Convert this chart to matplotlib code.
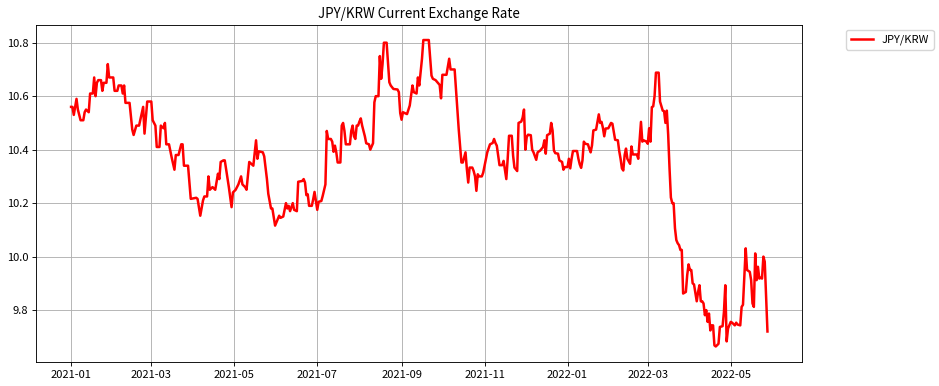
import pandas as pd
import matplotlib
matplotlib.use('Agg')
import matplotlib.pyplot as plt

plt.rcParams['font.family'] = ['Noto Sans CJK KR', 'DejaVu Sans']
plt.rcParams['axes.unicode_minus'] = False
# the original looks like default styling rendered at a lower dpi, so shrink everything a bit
plt.rcParams['axes.linewidth'] = 0.64
plt.rcParams['grid.linewidth'] = 0.64
plt.rcParams['xtick.major.size'] = 2.8
plt.rcParams['ytick.major.size'] = 2.8
plt.rcParams['xtick.major.width'] = 0.64
plt.rcParams['ytick.major.width'] = 0.64
plt.rcParams['xtick.major.pad'] = 2.8
plt.rcParams['ytick.major.pad'] = 2.8
plt.rcParams['axes.titlepad'] = 4.8

# JPY/KRW rate
dates = [
    '2021-01-01', '2021-01-02', '2021-01-03', '2021-01-05', '2021-01-06', '2021-01-08', '2021-01-10',
    '2021-01-11', '2021-01-12', '2021-01-14', '2021-01-15', '2021-01-17', '2021-01-18', '2021-01-19',
    '2021-01-20', '2021-01-21', '2021-01-23', '2021-01-24', '2021-01-25', '2021-01-27', '2021-01-28',
    '2021-01-29', '2021-02-01', '2021-02-02', '2021-02-04', '2021-02-05', '2021-02-07', '2021-02-08',
    '2021-02-09', '2021-02-10', '2021-02-13', '2021-02-15', '2021-02-16', '2021-02-18', '2021-02-20',
    '2021-02-23', '2021-02-24', '2021-02-26', '2021-03-01', '2021-03-02', '2021-03-04', '2021-03-05',
    '2021-03-07', '2021-03-08', '2021-03-10', '2021-03-11', '2021-03-12', '2021-03-14', '2021-03-16',
    '2021-03-18', '2021-03-19', '2021-03-21', '2021-03-23', '2021-03-24', '2021-03-25', '2021-03-28',
    '2021-03-30', '2021-04-03', '2021-04-04', '2021-04-06', '2021-04-08', '2021-04-09', '2021-04-11',
    '2021-04-12', '2021-04-13', '2021-04-15', '2021-04-17', '2021-04-19', '2021-04-20', '2021-04-21',
    '2021-04-23', '2021-04-24', '2021-04-27', '2021-04-29', '2021-04-30', '2021-05-02', '2021-05-04',
    '2021-05-06', '2021-05-07', '2021-05-09', '2021-05-10', '2021-05-12', '2021-05-14', '2021-05-15',
    '2021-05-17', '2021-05-18', '2021-05-19', '2021-05-22', '2021-05-23', '2021-05-25', '2021-05-26',
    '2021-05-28', '2021-05-29', '2021-05-31', '2021-06-02', '2021-06-03', '2021-06-04', '2021-06-06',
    '2021-06-08', '2021-06-09', '2021-06-10', '2021-06-11', '2021-06-13', '2021-06-14', '2021-06-16',
    '2021-06-17', '2021-06-20', '2021-06-21', '2021-06-22', '2021-06-23', '2021-06-24', '2021-06-25',
    '2021-06-27', '2021-06-28', '2021-06-29', '2021-06-30', '2021-07-01', '2021-07-02', '2021-07-04',
    '2021-07-05', '2021-07-07', '2021-07-08', '2021-07-09', '2021-07-11', '2021-07-12', '2021-07-13',
    '2021-07-14', '2021-07-15', '2021-07-16', '2021-07-18', '2021-07-19', '2021-07-20', '2021-07-21',
    '2021-07-22', '2021-07-25', '2021-07-26', '2021-07-27', '2021-07-28', '2021-07-29', '2021-07-30',
    '2021-07-31', '2021-08-01', '2021-08-02', '2021-08-03', '2021-08-05', '2021-08-06', '2021-08-08',
    '2021-08-09', '2021-08-11', '2021-08-12', '2021-08-13', '2021-08-15', '2021-08-16', '2021-08-17',
    '2021-08-18', '2021-08-19', '2021-08-21', '2021-08-23', '2021-08-24', '2021-08-26', '2021-08-29',
    '2021-08-30', '2021-08-31', '2021-09-01', '2021-09-02', '2021-09-05', '2021-09-07', '2021-09-09',
    '2021-09-10', '2021-09-12', '2021-09-13', '2021-09-14', '2021-09-15', '2021-09-16', '2021-09-17',
    '2021-09-21', '2021-09-23', '2021-09-24', '2021-09-26', '2021-09-29', '2021-09-30', '2021-10-01',
    '2021-10-04', '2021-10-06', '2021-10-07', '2021-10-10', '2021-10-12', '2021-10-13', '2021-10-15',
    '2021-10-16', '2021-10-18', '2021-10-19', '2021-10-20', '2021-10-21', '2021-10-23', '2021-10-24',
    '2021-10-25', '2021-10-26', '2021-10-27', '2021-10-28', '2021-10-30', '2021-10-31', '2021-11-01',
    '2021-11-03', '2021-11-05', '2021-11-07', '2021-11-08', '2021-11-09', '2021-11-10', '2021-11-11',
    '2021-11-12', '2021-11-14', '2021-11-15', '2021-11-17', '2021-11-18', '2021-11-19', '2021-11-21',
    '2021-11-22', '2021-11-23', '2021-11-25', '2021-11-26', '2021-11-28', '2021-11-29', '2021-11-30',
    '2021-12-01', '2021-12-02', '2021-12-03', '2021-12-05', '2021-12-06', '2021-12-07', '2021-12-09',
    '2021-12-10', '2021-12-12', '2021-12-14', '2021-12-15', '2021-12-16', '2021-12-17', '2021-12-19',
    '2021-12-20', '2021-12-21', '2021-12-22', '2021-12-23', '2021-12-25', '2021-12-26', '2021-12-28',
    '2021-12-29', '2021-12-30', '2022-01-01', '2022-01-02', '2022-01-03', '2022-01-04', '2022-01-05',
    '2022-01-08', '2022-01-09', '2022-01-10', '2022-01-11', '2022-01-12', '2022-01-13', '2022-01-14',
    '2022-01-16', '2022-01-17', '2022-01-18', '2022-01-19', '2022-01-20', '2022-01-22', '2022-01-24',
    '2022-01-25', '2022-01-26', '2022-01-27', '2022-01-28', '2022-01-29', '2022-01-31', '2022-02-02',
    '2022-02-03', '2022-02-04', '2022-02-05', '2022-02-07', '2022-02-08', '2022-02-09', '2022-02-10',
    '2022-02-11', '2022-02-12', '2022-02-13', '2022-02-14', '2022-02-16', '2022-02-17', '2022-02-18',
    '2022-02-21', '2022-02-22', '2022-02-24', '2022-02-25', '2022-02-26', '2022-02-28', '2022-03-01',
    '2022-03-02', '2022-03-03', '2022-03-04', '2022-03-05', '2022-03-06', '2022-03-07', '2022-03-09',
    '2022-03-10', '2022-03-12', '2022-03-13', '2022-03-14', '2022-03-15', '2022-03-16', '2022-03-17',
    '2022-03-18', '2022-03-19', '2022-03-20', '2022-03-21', '2022-03-22', '2022-03-23', '2022-03-24',
    '2022-03-25', '2022-03-26', '2022-03-27', '2022-03-29', '2022-03-30', '2022-03-31', '2022-04-01',
    '2022-04-02', '2022-04-03', '2022-04-04', '2022-04-06', '2022-04-07', '2022-04-08', '2022-04-09',
    '2022-04-10', '2022-04-11', '2022-04-12', '2022-04-13', '2022-04-14', '2022-04-15', '2022-04-16',
    '2022-04-17', '2022-04-18', '2022-04-19', '2022-04-20', '2022-04-22', '2022-04-23', '2022-04-25',
    '2022-04-26', '2022-04-27', '2022-04-28', '2022-04-29', '2022-05-01', '2022-05-02', '2022-05-04',
    '2022-05-05', '2022-05-06', '2022-05-08', '2022-05-09', '2022-05-10', '2022-05-12', '2022-05-13',
    '2022-05-15', '2022-05-16', '2022-05-17', '2022-05-18', '2022-05-19', '2022-05-20', '2022-05-21',
    '2022-05-22', '2022-05-23', '2022-05-24', '2022-05-25', '2022-05-26', '2022-05-28',
]

rates = [
    10.56, 10.56, 10.53, 10.59, 10.55, 10.51, 10.51,
    10.54, 10.55, 10.54, 10.61, 10.61, 10.67, 10.60,
    10.65, 10.66, 10.66, 10.62, 10.65, 10.65, 10.72,
    10.67, 10.67, 10.62, 10.62, 10.64, 10.64, 10.61,
    10.64, 10.575, 10.575, 10.475, 10.455, 10.49, 10.49,
    10.56, 10.46, 10.58, 10.58, 10.51, 10.49, 10.41,
    10.41, 10.49, 10.48, 10.50, 10.42, 10.42, 10.37,
    10.325, 10.38, 10.38, 10.42, 10.42, 10.34, 10.34,
    10.216, 10.22, 10.216, 10.153, 10.21, 10.225, 10.225,
    10.30, 10.25, 10.26, 10.25, 10.31, 10.29, 10.354,
    10.36, 10.36, 10.26, 10.185, 10.24, 10.25, 10.27,
    10.30, 10.27, 10.26, 10.25, 10.354, 10.345, 10.34,
    10.435, 10.366, 10.394, 10.39, 10.375, 10.29, 10.235,
    10.18, 10.18, 10.116, 10.14, 10.153, 10.145, 10.15,
    10.20, 10.18, 10.19, 10.17, 10.20, 10.175, 10.17,
    10.28, 10.283, 10.29, 10.277, 10.23, 10.233, 10.19,
    10.19, 10.214, 10.242, 10.208, 10.175, 10.205, 10.208,
    10.227, 10.27, 10.47, 10.44, 10.44, 10.43, 10.392,
    10.415, 10.39, 10.352, 10.352, 10.49, 10.50, 10.47,
    10.42, 10.42, 10.47, 10.49, 10.45, 10.44, 10.49,
    10.49, 10.505, 10.517, 10.49, 10.45, 10.424, 10.42,
    10.40, 10.424, 10.577, 10.60, 10.60, 10.75, 10.665,
    10.72, 10.80, 10.80, 10.652, 10.64, 10.627, 10.625,
    10.615, 10.537, 10.512, 10.54, 10.533, 10.565, 10.64,
    10.615, 10.61, 10.67, 10.64, 10.69, 10.74, 10.81,
    10.81, 10.677, 10.665, 10.66, 10.642, 10.592, 10.68,
    10.68, 10.74, 10.70, 10.70, 10.552, 10.477, 10.352,
    10.352, 10.39, 10.327, 10.277, 10.333, 10.333, 10.32,
    10.30, 10.246, 10.308, 10.30, 10.30, 10.314, 10.34,
    10.39, 10.42, 10.425, 10.44, 10.425, 10.415, 10.377,
    10.342, 10.342, 10.358, 10.29, 10.365, 10.452, 10.452,
    10.377, 10.333, 10.32, 10.50, 10.505, 10.52, 10.55,
    10.40, 10.447, 10.456, 10.454, 10.40, 10.39, 10.362,
    10.39, 10.397, 10.41, 10.435, 10.385, 10.454, 10.46,
    10.50, 10.472, 10.397, 10.387, 10.385, 10.36, 10.354,
    10.325, 10.335, 10.335, 10.366, 10.33, 10.366, 10.395,
    10.395, 10.366, 10.345, 10.332, 10.36, 10.43, 10.422,
    10.42, 10.404, 10.39, 10.416, 10.472, 10.475, 10.532,
    10.50, 10.504, 10.482, 10.45, 10.479, 10.48, 10.50,
    10.497, 10.466, 10.437, 10.435, 10.395, 10.366, 10.33,
    10.322, 10.38, 10.404, 10.366, 10.347, 10.412, 10.382,
    10.382, 10.366, 10.504, 10.43, 10.435, 10.43, 10.422,
    10.48, 10.43, 10.559, 10.562, 10.60, 10.688, 10.688,
    10.58, 10.546, 10.544, 10.50, 10.546, 10.456, 10.33,
    10.221, 10.20, 10.20, 10.106, 10.062, 10.05, 10.043,
    10.025, 10.025, 9.862, 9.868, 9.931, 9.971, 9.95,
    9.95, 9.90, 9.896, 9.833, 9.868, 9.893, 9.833,
    9.833, 9.825, 9.781, 9.80, 9.756, 9.787, 9.724,
    9.743, 9.743, 9.668, 9.664, 9.674, 9.737, 9.74,
    9.793, 9.893, 9.683, 9.731, 9.756, 9.753, 9.743,
    9.753, 9.746, 9.743, 9.812, 9.82, 10.031, 9.95,
    9.943, 9.912, 9.825, 9.812, 10.012, 9.912, 9.962,
    9.918, 9.921, 9.918, 10.0, 9.981, 9.72,
]

df = pd.DataFrame({'date': pd.to_datetime(dates), 'JPY/KRW': rates})

fig = plt.figure(figsize=(9.39, 3.86), dpi=100)
ax = fig.add_axes([0.0386, 0.0627, 0.8158, 0.8733])
ax.plot(df['date'], df['JPY/KRW'], color='red', linewidth=1.8, label='JPY/KRW')
ax.set_title('JPY/KRW Current Exchange Rate', fontsize=9.6)
ax.tick_params(labelsize=8)
ax.grid(True)
ax.legend(bbox_to_anchor=(1.05, 1), loc='upper left', fontsize=8)

fig.savefig('out.png', dpi=100)
